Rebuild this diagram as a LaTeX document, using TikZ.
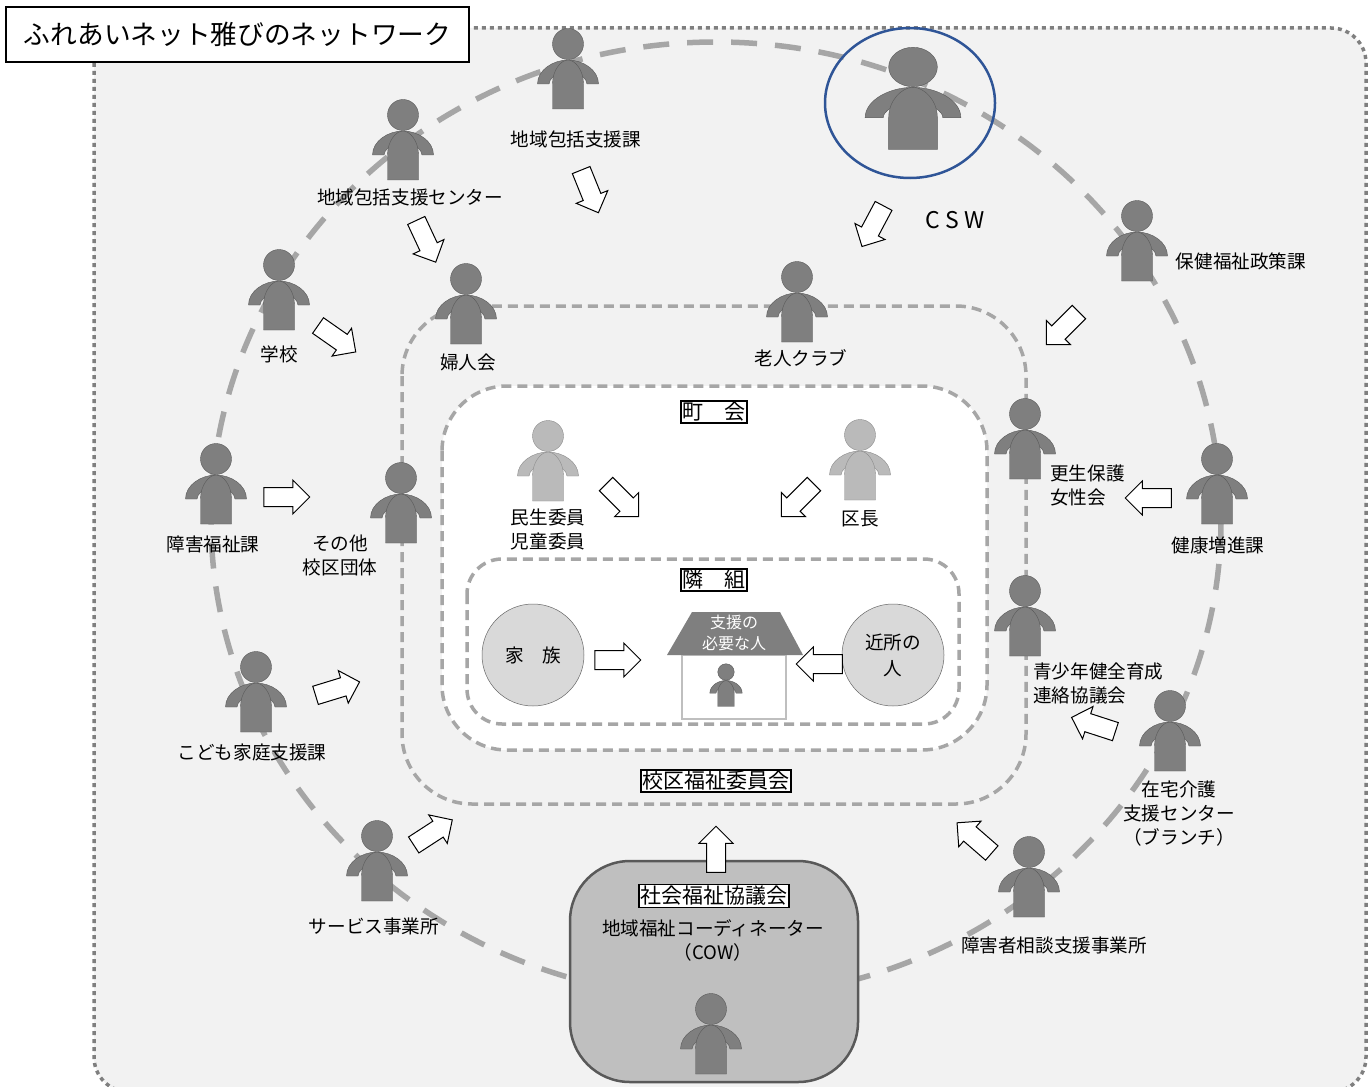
\documentclass[tikz,border=0pt]{standalone}
\usepackage{fontspec}
\setmainfont{Noto Sans CJK JP}
\newfontfamily\spacedfont[LetterSpace=24]{Noto Sans CJK JP}
\usetikzlibrary{shapes.arrows}
\definecolor{ringgray}{HTML}{A6A6A6}
\definecolor{dotgray}{HTML}{7F7F7F}
\definecolor{areagray}{HTML}{F2F2F2}
\definecolor{bodygray}{HTML}{7F7F7F}
\definecolor{csw}{HTML}{2F5597}
\tikzset{
  personbody/.style={draw=black!65,line width=0.4pt,fill=bodygray},
  lightperson/.style={personbody/.style={draw=black!45,line width=0.4pt,fill=black!27}},
  person/.pic={
    \path[personbody] (-30.5,40) .. controls (-30.5,26) and (-15,16) .. (0,16) .. controls (15,16) and (30.5,26) .. (30.5,40) -- (19,40) .. controls (19,37) and (17,35) .. (15,33) -- (-15,33) .. controls (-17,35) and (-19,37) .. (-19,40) -- cycle;
    \path[personbody] (-15.5,65) -- (-15.5,40) .. controls (-15.5,26) and (-7,16) .. (0,16) .. controls (7,16) and (15.5,26) .. (15.5,40) -- (15.5,65) -- cycle;
    \path[personbody] (0,0) circle (15.5);
  },
  label/.style={font=\fontsize{18.6}{24}\selectfont,align=center,inner sep=0pt,yshift=-0.4pt},
  leftlabel/.style={label,align=left},
  boxlabel/.style={draw=black,line width=1.5pt,fill=white,inner sep=1.5pt,font=\fontsize{21}{24}\selectfont},
  blockarrow/.style={single arrow,draw=black,line width=1pt,fill=white,minimum height=46,minimum width=33,single arrow head extend=7.5,single arrow tip angle=90,inner xsep=0pt,inner ysep=9pt},
  zone/.style={draw=ringgray,line width=3.5pt,dash pattern=on 10 off 6},
  family/.style={circle,draw=black!60,line width=0.5pt,fill=black!15,minimum size=102,inner sep=0pt,align=center,font=\fontsize{18.6}{26}\selectfont}
}
\begin{document}
\begin{tikzpicture}[x=1pt,y=-1pt]
\useasboundingbox (0,0) rectangle (1372,1086);
% network area
\draw[dotgray,fill=areagray,line width=3.5pt,dash pattern=on 4 off 4,rounded corners=35] (94,28) rectangle (1366,1092);
\draw[ringgray,line width=5.5pt,dash pattern=on 26 off 18] (716,520) ellipse [x radius=505,y radius=478];
% nested groups
\draw[zone,rounded corners=70] (402,306) rectangle (1026,804);
\draw[zone,fill=white,rounded corners=65] (442,386) rectangle (987,750);
\draw[zone,fill=white,rounded corners=35] (467,559) rectangle (959,724);
\draw[black!65,line width=2.5pt,fill=black!25,rounded corners=60] (570,861) rectangle (858,1082);
% house
\draw[black!25,line width=2pt,fill=white] (682,655) rectangle (786,719);
\fill[bodygray] (692,612) -- (780,612) -- (803,655) -- (667,655) -- cycle;
\node[label,text=white,font=\fontsize{16}{21}\selectfont] (needy) at (734,633) {支援の\\必要な人};
\pic[scale=0.53] (needyperson) at (726,672) {person};
\node[family] (kazoku) at (533,655) {家　族};
\node[family] (kinjo) at (893,655) {近所の\\人};
% people
\pic (ringa) at (568,44) {person};
\pic (ringb) at (403,115) {person};
\pic (ringc) at (279,265) {person};
\pic (ringd) at (216,459) {person};
\pic (ringe) at (256,667) {person};
\pic (ringf) at (377,836) {person};
\pic (ringg) at (1137,216) {person};
\pic (ringh) at (1217,459) {person};
\pic (ringi) at (1170,706) {person};
\pic (ringj) at (1029,852) {person};
\pic (groupa) at (466,279) {person};
\pic (groupb) at (797,277) {person};
\pic (groupc) at (401,478) {person};
\pic (groupd) at (1025,414) {person};
\pic (groupe) at (1025,591) {person};
\pic[lightperson] (chouna) at (548,436) {person};
\pic[lightperson] (chounb) at (860,435) {person};
\pic (cow) at (711,1009) {person};
\pic[xscale=1.57,yscale=1.27] (cswperson) at (913,67) {person};
\draw[csw,line width=2.5pt] (910,103) ellipse [x radius=85,y radius=75];
% names
\node[label] (na) at (576,139) {地域包括支援課};
\node[label] (nb) at (410,197) {地域包括支援センター};
\node[label] (nc) at (279,354) {学校};
\node[label] (nd) at (213,544) {障害福祉課};
\node[label] (ne) at (252,752) {こども家庭支援課};
\node[label] (nf) at (374,926) {サービス事業所};
\node[label] (ng) at (1241,261) {保健福祉政策課};
\node[label] (nh) at (1218,545) {健康増進課};
\node[label] (ni) at (1179,813) {在宅介護\\支援センター\\（ブランチ）};
\node[label] (nj) at (1054,945) {障害者相談支援事業所};
\node[label] (ga) at (468,362) {婦人会};
\node[label] (gb) at (801,358) {老人クラブ};
\node[label] (gc) at (340,555) {その他\\校区団体};
\node[leftlabel,anchor=west] (gd) at (1050,485) {更生保護\\女性会};
\node[leftlabel,anchor=west] (ge) at (1033,683) {青少年健全育成\\連絡協議会};
\node[label] (ca) at (548,529) {民生委員\\児童委員};
\node[label] (cb) at (860,518) {区長};
\node[label,font=\spacedfont\fontsize{23}{24}\selectfont] (cswname) at (955,220) {CSW};
\node[label] (cowname) at (713,940) {地域福祉コーディネーター\\（COW）};
% group titles
\node[boxlabel] (chounai) at (714,412) {町　会};
\node[boxlabel] (tonari) at (714,580) {隣　組};
\node[boxlabel] (kouku) at (716,781) {校区福祉委員会};
\node[boxlabel] (shakyo) at (714,896) {社会福祉協議会};
% arrows
\node[blockarrow,rotate=-68] (aa) at (588,187) {};
\node[blockarrow,rotate=-65] (ab) at (424,237) {};
\node[blockarrow,rotate=-118] (ac) at (875,222) {};
\node[blockarrow,rotate=-35] (ad) at (333,336) {};
\node[blockarrow] (ae) at (282,497) {};
\node[blockarrow,rotate=17] (af) at (333,690) {};
\node[blockarrow,rotate=33] (ag) at (429,835) {};
\node[blockarrow,rotate=90] (ah) at (716,854) {};
\node[blockarrow,rotate=139] (ai) at (978,841) {};
\node[blockarrow,rotate=162] (aj) at (1098,726) {};
\node[blockarrow,rotate=180] (ak) at (1153,498) {};
\node[blockarrow,rotate=225] (al) at (1066,325) {};
\node[blockarrow,rotate=-45] (am) at (619,497) {};
\node[blockarrow,rotate=225] (an) at (801,497) {};
\node[blockarrow] (ao) at (613,660) {};
\node[blockarrow,rotate=180] (ap) at (824,664) {};
% title
\node[draw=black,line width=1.5pt,fill=white,minimum width=463,minimum height=55,inner sep=0pt,font=\fontsize{26.7}{30}\selectfont] (title) at (237.5,34.5) {ふれあいネット雅びのネットワーク};
\end{tikzpicture}
\end{document}
